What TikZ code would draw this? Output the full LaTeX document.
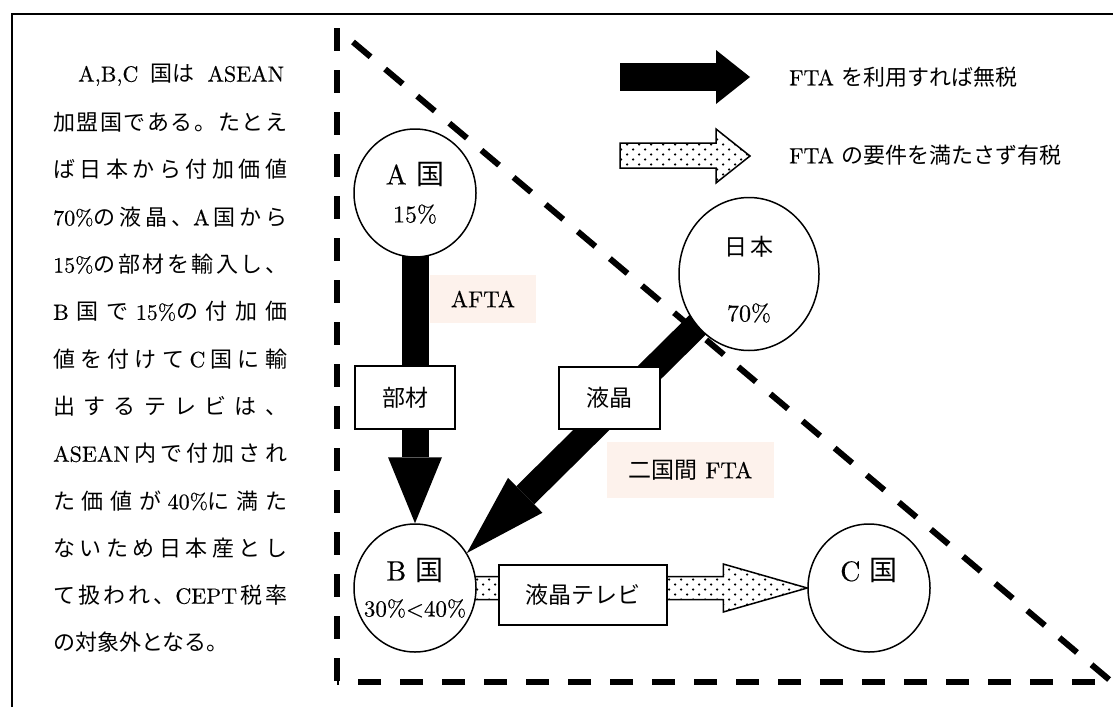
\documentclass[tikz,border=0pt]{standalone}
\usepackage{fontspec}
\setmainfont{lmroman10-regular.otf}[FakeBold=0.4]
\newfontfamily\cjk{Noto Sans CJK JP}
\usetikzlibrary{shapes.geometric,arrows.meta,patterns,backgrounds}
\definecolor{pinkbg}{RGB}{253,242,236}
\newcommand\J[1]{{\cjk #1}}
\newcommand\jg{\hfill}
\pgfdeclarepatternformonly{sdots}{\pgfqpoint{-2pt}{-2pt}}{\pgfqpoint{14pt}{12pt}}{\pgfqpoint{12pt}{10pt}}{%
  \pgfpathcircle{\pgfqpoint{3pt}{2.5pt}}{1.25pt}%
  \pgfpathcircle{\pgfqpoint{9pt}{7.5pt}}{1.25pt}%
  \pgfusepath{fill}}
\tikzset{
  txt/.style={anchor=west, inner sep=0pt, font=\fontsize{22}{26}\selectfont},
  country/.style={ellipse, draw, line width=1.5pt, fill=white, minimum width=122pt,
    minimum height=128pt, inner sep=0pt, align=center, font=\fontsize{24}{38}\selectfont},
  goods/.style={draw, line width=1.5pt, fill=white, inner sep=0pt, font=\fontsize{23}{28}\selectfont},
  fta/.style={fill=pinkbg, inner sep=0pt, font=\fontsize{23}{28}\selectfont},
  legendtext/.style={anchor=west, inner sep=0pt, font=\fontsize{22}{26}\selectfont},
  border/.style={line width=6pt, dash pattern=on 23pt off 19pt},
  dotarrow/.style={draw, line width=1.5pt, preaction={fill=white}, pattern=sdots},
}
\begin{document}
\begin{tikzpicture}[x=1pt,y=-1pt]
\useasboundingbox (0,0) rectangle (1113,707);
% outer frame
\draw[line width=2pt] (12,707) -- (12,14) -- (1113,14);

% left text
\node[txt] (t1) at (78,75) {\makebox[206pt][s]{A,B,C \J{国は} ASEAN}};
\node[txt] (t2) at (53,122.3) {\makebox[234pt][s]{\J{加\jg 盟\jg 国\jg で\jg あ\jg る\jg 。\jg た\jg と\jg え}}};
\node[txt] (t3) at (53,169.6) {\makebox[234pt][s]{\J{ば\jg 日\jg 本\jg か\jg ら\jg 付\jg 加\jg 価\jg 値}}};
\node[txt] (t4) at (53,216.9) {\makebox[234pt][s]{70\%\J{の\jg 液\jg 晶\jg 、}A\jg\J{国\jg か\jg ら}}};
\node[txt] (t5) at (53,264.2) {\makebox[234pt][s]{15\%\J{の\jg 部\jg 材\jg を\jg 輸\jg 入\jg し\jg 、}}};
\node[txt] (t6) at (53,311.5) {\makebox[234pt][s]{B\jg\J{国\jg で}\jg 15\%\J{の\jg 付\jg 加\jg 価}}};
\node[txt] (t7) at (53,358.8) {\makebox[234pt][s]{\J{値\jg を\jg 付\jg け\jg て}\jg C\jg\J{国\jg に\jg 輸}}};
\node[txt] (t8) at (53,406.1) {\makebox[234pt][s]{\J{出\jg す\jg る\jg テ\jg レ\jg ビ\jg は\jg 、}}};
\node[txt] (t9) at (53,453.4) {\makebox[234pt][s]{ASEAN\jg\J{内\jg で\jg 付\jg 加\jg さ\jg れ}}};
\node[txt] (t10) at (53,500.7) {\makebox[234pt][s]{\J{た\jg 価\jg 値\jg が}\jg 40\%\J{に\jg 満\jg た}}};
\node[txt] (t11) at (53,548) {\makebox[234pt][s]{\J{な\jg い\jg た\jg め\jg 日\jg 本\jg 産\jg と\jg し}}};
\node[txt] (t12) at (53,595.3) {\makebox[234pt][s]{\J{て\jg 扱\jg わ\jg れ\jg 、}CEPT\jg\J{税\jg 率}}};
\node[txt] (t13) at (53,642.6) {\J{の対象外となる。}};

% countries
\node[country] (a) at (415,193) {{\fontsize{28}{38}\selectfont A \J{国}}\\15\%};
\node[country, minimum width=140pt, minimum height=153pt] (japan) at (749,274)
  {\rule{0pt}{30pt}{\fontsize{23}{38}\selectfont\J{日\hspace{3pt}本}}\\[28pt]70\%};
\node[country] (b) at (415,588) {{\fontsize{28}{36}\selectfont B \J{国}}\\[-2pt]\makebox[60pt][c]{\fontsize{23}{24}\selectfont 30\%<40\%}};
\node[country] (c) at (869,588) {{\fontsize{28}{36}\selectfont C \J{国}}\\[-2pt]\phantom{0}};

% goods boxes
\node[goods, minimum width=100pt, minimum height=63pt] (buzai) at (405,397.5) {\J{部材}};
\node[goods, minimum width=101pt, minimum height=62pt] (ekisho) at (609.5,398) {\J{液晶}};
\node[goods, minimum width=168pt, minimum height=60pt] (tv) at (583,595) {\J{液晶テレビ}};

% FTA labels
\node[fta, minimum width=106pt, minimum height=48pt] (afta) at (483,299) {AFTA};
\node[fta, minimum width=167pt, minimum height=56pt] (bifta) at (690.5,470) {\J{二国間} FTA};

% legend
\coordinate (k1s) at (620,77);
\coordinate (k1e) at (750,77);
\draw[line width=28pt, -{Triangle[length=34pt,width=54pt,line width=0pt]}] (k1s) -- (k1e);
\draw[dotarrow] (620,143) -- (716,143) -- (716,129) -- (750,156) -- (716,183) -- (716,168) -- (620,168) -- cycle;
\node[legendtext] (k1t) at (789,77) {FTA \J{を利用すれば無税}};
\node[legendtext] (k2t) at (789,155) {FTA \J{の要件を満たさず有税}};

\begin{pgfonlayer}{background}
  % dashed triangle
  \draw[border] (337,28) -- (337,683);
  \draw[border] (1095,682) -- (337,682);
  \draw[border] (353,42) -- (1112,682);
  % flows
  \draw[line width=27pt, -{Triangle[length=66pt,width=54pt,line width=0pt]}] (a.center) -- (b.north);
  \draw[line width=25.5pt, -{Triangle[length=82pt,width=49pt,line width=0pt]}] (japan.center) -- (b.34);
  \draw[dotarrow] ([xshift=-8pt,yshift=11.5pt]b.east) -- ([xshift=-84pt,yshift=11.5pt]c.west)
    -- ([xshift=-84pt,yshift=24pt]c.west) -- (c.west) -- ([xshift=-84pt,yshift=-24pt]c.west)
    -- ([xshift=-84pt,yshift=-11.5pt]c.west) -- ([xshift=-8pt,yshift=-11.5pt]b.east) -- cycle;
\end{pgfonlayer}
\end{tikzpicture}
\end{document}
